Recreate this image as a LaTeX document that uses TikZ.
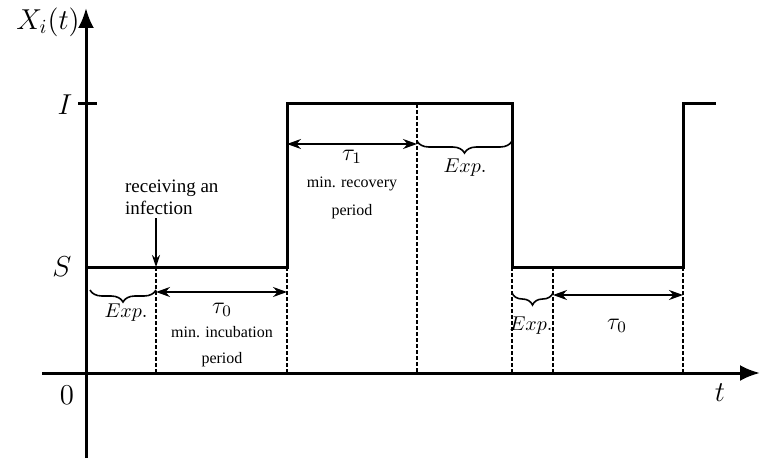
\documentclass[tikz,border=0pt]{standalone}
\usepackage{amsmath}
\usepackage{fontspec}
\setmainfont{Liberation Serif}
\usetikzlibrary{arrows.meta,decorations.pathreplacing}

\tikzset{
  axis/.style={line width=1.5pt,-{Latex[length=10pt,width=8pt]}},
  signal/.style={line width=1.5pt},
  guide/.style={line width=0.8pt,dash pattern=on 2pt off 1pt},
  span/.style={line width=0.8pt,{Stealth[length=7pt,width=5pt]}-{Stealth[length=7pt,width=5pt]}},
  expbrace/.style={line width=0.8pt,decorate,decoration={brace,mirror,amplitude=6pt}},
  note/.style={font=\fontsize{8}{9}\selectfont}
}

\begin{document}
\begin{tikzpicture}[x=0.5pt,y=-0.5pt]
\useasboundingbox (0,0) rectangle (760,460);

% Axes
\draw[axis] (86,458) -- (86,8);
\draw[axis] (42,373) -- (760,373);
\draw[line width=1.5pt] (78,104) -- (97,104);

\node (yl) at (48,22) {\Large $X_i(t)$};
\node (il) at (65,105) {\Large $I$};
\node (sl) at (62,267) {\Large $S$};
\node (zl) at (67,395) {\Large $0$};
\node (tl) at (720,393) {\Large $t$};

% Signal
\draw[signal] (86,267) -- (287,267) -- (287,104) -- (512,104)
  -- (512,267) -- (683,267) -- (683,104) -- (716,104);

% Guides
\draw[guide] (156,267) -- (156,373);
\draw[guide] (287,267) -- (287,373);
\draw[guide] (417,104) -- (417,373);
\draw[guide] (512,267) -- (512,373);
\draw[guide] (553,267) -- (553,373);
\draw[guide] (683,267) -- (683,373);

% Infection
\node[align=left,anchor=west,font=\fontsize{9.5}{11}\selectfont] (inf) at (118,197)
  {receiving an\\infection};
\coordinate (hit) at (156,267);
\draw[line width=0.6pt,-{Stealth[length=6pt,width=4pt]}] (156,218) -- (hit);

% First incubation
\draw[expbrace] (90,290) -- (156,290);
\node (e1) at (126,313) {$Exp.$};
\draw[span] (156,292) -- (287,292);
\node (t0a) at (222,310) {\large $\tau_0$};
\node[note] (m0) at (222,332) {min. incubation};
\node[note] (p0) at (222,360) {period};

% Recovery
\draw[span] (287,144) -- (417,144);
\node (t1) at (352,157) {\large $\tau_1$};
\node[note] (m1) at (352,184) {min. recovery};
\node[note] (p1) at (352,212) {period};
\draw[expbrace] (417,141) -- (512,141);
\node (e2) at (465,168) {$Exp.$};

% Second incubation
\draw[expbrace] (512,293) -- (553,293);
\node (e3) at (531,326) {$Exp.$};
\draw[span] (553,295) -- (683,295);
\node (t0b) at (617,326) {\large $\tau_0$};

\end{tikzpicture}
\end{document}
